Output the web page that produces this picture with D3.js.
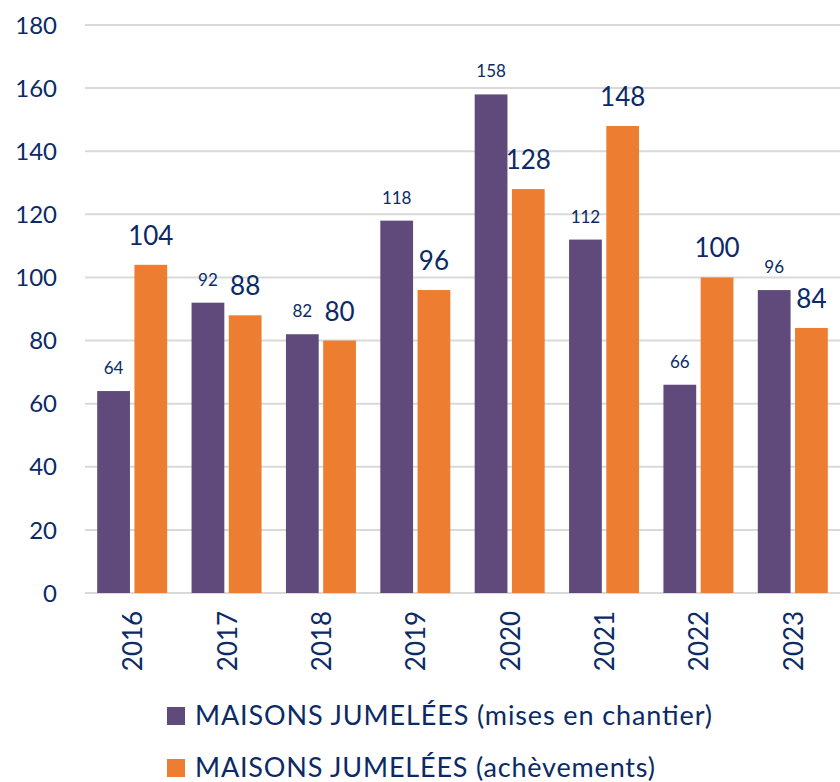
<!DOCTYPE html>
<html><head><meta charset="utf-8">
<script src="https://cdn.jsdelivr.net/npm/d3@7"></script>
<style>body{margin:0;background:#fff}svg{display:block}text{font-family:Lato,"Open Sans",sans-serif;fill:#0b2a66}</style>
</head><body><svg id="c" width="840" height="782"></svg>
<script>
const years = ["2016","2017","2018","2019","2020","2021","2022","2023"];
const chantier = [64,92,82,118,158,112,66,96];
const achevements = [104,88,80,96,128,148,100,84];
const yTicks = [0,20,40,60,80,100,120,140,160,180];
const seriesNames = ["MAISONS JUMELÉES (mises en chantier)","MAISONS JUMELÉES (achèvements)"];
const colors = ["#604A7B","#ED7D31"];

const svg = d3.select("#c");
const mLeft=85, mRight=840, mTop=25, mBottom=593;
const x = d3.scaleBand().domain(years).range([mLeft,mRight]).paddingInner(0).paddingOuter(0);
const y = d3.scaleLinear().domain([0,180]).range([mBottom,mTop]);
const inner = d3.scaleBand().domain([0,1]).range([-35,35]).paddingInner(0.12);

svg.append("g").selectAll("line").data(yTicks).join("line")
  .attr("x1",mLeft).attr("x2",mRight).attr("y1",d=>y(d)).attr("y2",d=>y(d))
  .attr("stroke","#d9d9d9").attr("stroke-width",2);
svg.append("g").selectAll("text").data(yTicks).join("text")
  .attr("x",57).attr("y",d=>y(d)).attr("dy","0.36em").attr("text-anchor","end")
  .attr("font-size",24).text(d=>d);

const series=[chantier,achevements];
series.forEach((vals,si)=>{
  const g=svg.append("g");
  g.selectAll("rect").data(vals).join("rect")
    .attr("x",(d,i)=>x(years[i])+x.bandwidth()/2+inner(si))
    .attr("width",inner.bandwidth())
    .attr("y",d=>y(d)).attr("height",d=>y(0)-y(d)).attr("fill",colors[si]);
  g.selectAll("text").data(vals).join("text")
    .attr("x",(d,i)=>x(years[i])+x.bandwidth()/2+inner(si)+inner.bandwidth()/2)
    .attr("y",d=>y(d)-(si===0?17:20))
    .attr("text-anchor","middle").attr("font-size",si===0?17:26).text(d=>d);
});
svg.append("g").selectAll("text").data(years).join("text")
  .attr("transform",d=>`translate(${x(d)+x.bandwidth()/2+10},${641}) rotate(-90)`)
  .attr("text-anchor","middle").attr("font-size",26).text(d=>d);

const leg=svg.append("g");
const legW=[517,460];
seriesNames.forEach((n,i)=>{
  const yy=715+i*52;
  leg.append("rect").attr("x",167).attr("y",yy-8).attr("width",18).attr("height",18).attr("fill",colors[i]);
  leg.append("text").attr("x",195).attr("y",yy).attr("dy","0.36em").attr("font-size",27)
    .attr("textLength",legW[i]).attr("lengthAdjust","spacing").text(n);
});
</script></body></html>
